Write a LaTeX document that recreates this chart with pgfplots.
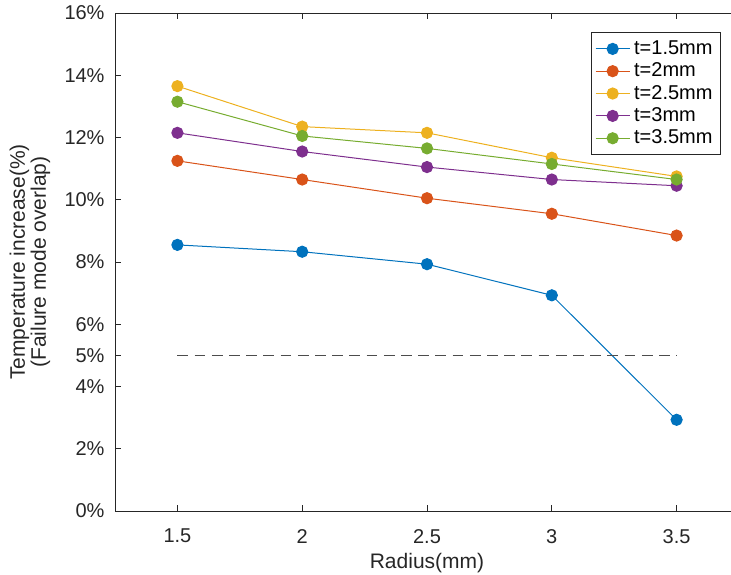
\documentclass[border=0pt]{standalone}
\usepackage{fontspec}
\setmainfont{Liberation Sans}
\usepackage{pgfplots}
\pgfplotsset{compat=1.18}
\definecolor{c1}{rgb}{0,0.447,0.741}
\definecolor{c2}{rgb}{0.85,0.325,0.098}
\definecolor{c3}{rgb}{0.929,0.694,0.125}
\definecolor{c4}{rgb}{0.494,0.184,0.556}
\definecolor{c5}{rgb}{0.466,0.674,0.188}
\definecolor{axc}{rgb}{0.15,0.15,0.15}
\begin{document}
\begin{tikzpicture}
\useasboundingbox (-57.5pt,-31.5pt) rectangle (308pt,255.5pt);
\begin{axis}[
  at={(0,0)}, anchor=south west,
  scale only axis, width=312pt, height=249pt,
  xmin=1.25, xmax=3.75, ymin=0, ymax=16,
  xtick={1.5,2,2.5,3,3.5},
  ytick={0,2,4,5,6,8,10,12,14,16},
  xticklabels={1.5,2,2.5,3,3.5},
  tick align=inside, major tick length=3pt,
  axis line style={color=axc, line width=0.5pt},
  tick style={color=axc, line width=0.5pt},
  /pgf/number format/assume math mode=true,
  yticklabel={\pgfmathprintnumber{\tick}\%},
  ticklabel style={font=\fontsize{10}{12}\selectfont, text=axc},
  xticklabel style={yshift=-5.5pt},
  yticklabel style={xshift=-1.7pt},
  xlabel={Radius(mm)},
  ylabel={Temperature increase(\%)\\(Failure mode overlap)},
  label style={font=\fontsize{10.5}{10.5}\selectfont, text=axc},
  xlabel style={at={(axis description cs:0.5,-0.1045)}, anchor=center},
  ylabel style={at={(axis description cs:-0.1362,0.5)}, anchor=center, align=center},
  legend style={at={(axis description cs:0.9712,0.9618)}, anchor=north east,
    draw=axc, line width=0.5pt, font=\fontsize{10}{11.5}\selectfont, text=black,
    inner xsep=2pt, inner ysep=2pt, row sep=-1.3pt},
  legend cell align=left,
  legend image code/.code={
    \draw[mark repeat=2, mark phase=2] plot coordinates {(0pt,0pt) (8.5pt,0pt) (17pt,0pt)};
  },
  every axis plot/.append style={line width=0.5pt, mark=*, mark size=2.8pt},
]
\addplot[color=c1, mark options={fill=c1, draw=c1}] coordinates {(1.5,8.55) (2,8.33) (2.5,7.93) (3,6.93) (3.5,2.93)};
\addlegendentry{t=1.5mm}
\addplot[color=c2, mark options={fill=c2, draw=c2}] coordinates {(1.5,11.25) (2,10.65) (2.5,10.05) (3,9.55) (3.5,8.85)};
\addlegendentry{t=2mm}
\addplot[color=c3, mark options={fill=c3, draw=c3}] coordinates {(1.5,13.65) (2,12.35) (2.5,12.15) (3,11.35) (3.5,10.75)};
\addlegendentry{t=2.5mm}
\addplot[color=c4, mark options={fill=c4, draw=c4}] coordinates {(1.5,12.15) (2,11.55) (2.5,11.05) (3,10.65) (3.5,10.45)};
\addlegendentry{t=3mm}
\addplot[color=c5, mark options={fill=c5, draw=c5}] coordinates {(1.5,13.15) (2,12.05) (2.5,11.65) (3,11.15) (3.5,10.65)};
\addlegendentry{t=3.5mm}
\addplot[forget plot, mark=none, color=black!70, line width=0.6pt, dash pattern=on 5.4pt off 3.2pt] coordinates {(1.5,5) (3.5,5)};
\end{axis}
\end{tikzpicture}
\end{document}
